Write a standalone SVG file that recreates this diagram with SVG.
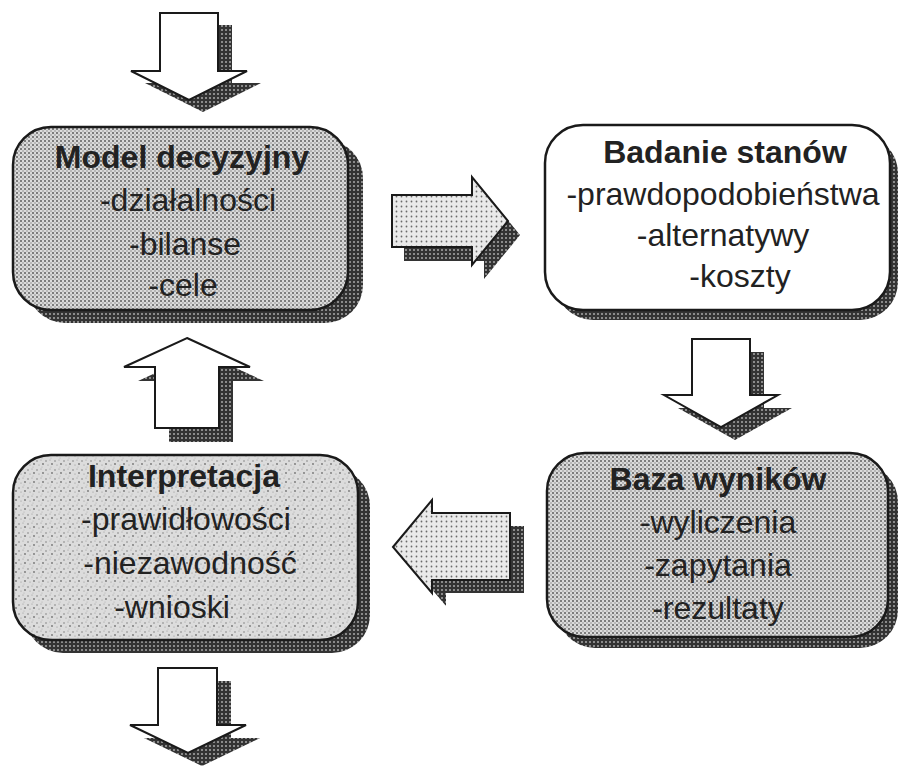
<svg xmlns="http://www.w3.org/2000/svg" width="898" height="767" viewBox="0 0 898 767">
  <defs>
    <pattern id="dots" width="4" height="4" patternUnits="userSpaceOnUse">
      <rect width="4" height="4" fill="#dadada"/>
      <circle cx="1" cy="1" r="1" fill="#5e5e5e"/>
      <circle cx="3" cy="3" r="0.8" fill="#8a8a8a"/>
    </pattern>
    <pattern id="lightdots" width="5" height="5" patternUnits="userSpaceOnUse">
      <rect width="5" height="5" fill="#eaeaea"/>
      <circle cx="1.5" cy="1.5" r="0.9" fill="#6a6a6a"/>
    </pattern>
    <pattern id="speckle" width="9" height="9" patternUnits="userSpaceOnUse">
      <rect width="9" height="9" fill="#dcdcdc"/>
      <circle cx="1" cy="2" r="0.8" fill="#808080"/>
      <circle cx="5" cy="1" r="0.6" fill="#989898"/>
      <circle cx="7" cy="5" r="0.9" fill="#747474"/>
      <circle cx="3" cy="6" r="0.6" fill="#929292"/>
      <circle cx="6" cy="8" r="0.5" fill="#a8a8a8"/>
    </pattern>
    <pattern id="shade" width="4" height="4" patternUnits="userSpaceOnUse">
      <rect width="4" height="4" fill="#333333"/>
      <circle cx="2" cy="2" r="1" fill="#a8a8a8"/>
    </pattern>
  </defs>
  <style>
    .box { stroke: #1a1a1a; stroke-width: 2.5; }
    .shadow { fill: url(#shade); stroke: none; }
    .arrow { stroke: #1a1a1a; stroke-width: 2; stroke-linejoin: miter; }
    .t { font-family: "Liberation Sans", Arial, sans-serif; font-size: 32px; fill: #222; text-anchor: middle; }
    .title { font-weight: bold; }
  </style>
  <rect width="898" height="767" fill="#ffffff"/>

  <g id="connectors">
    <g id="arrow-in">
      <polygon class="shadow" points="174,25 232,25 232,83 261,83 203,112 145,83 174,83"/>
      <polygon class="arrow" fill="#ffffff" points="160,13 218,13 218,71 247,71 189,100 131,71 160,71"/>
    </g>
    <g id="arrow-model-badanie">
      <polygon class="shadow" points="404,209 484,209 484,191 520,235 484,279 484,261 404,261"/>
      <polygon class="arrow" fill="url(#lightdots)" points="392,195 472,195 472,177 508,221 472,265 472,247 392,247"/>
    </g>
    <g id="arrow-badanie-baza">
      <polygon class="shadow" points="706,352 764,352 764,408 792,408 735,440 678,408 706,408"/>
      <polygon class="arrow" fill="#ffffff" points="692,339 750,339 750,395 778,395 721,427 664,395 692,395"/>
    </g>
    <g id="arrow-baza-interpretacja">
      <polygon class="shadow" points="407,560 446,513 446,526 524,526 524,593 446,593 446,606"/>
      <polygon class="arrow" fill="url(#lightdots)" points="393,547 432,500 432,513 510,513 510,580 432,580 432,593"/>
    </g>
    <g id="arrow-interpretacja-model">
      <polygon class="shadow" points="201,352 264,381 233,381 233,442 169,442 169,381 138,381"/>
      <polygon class="arrow" fill="#ffffff" points="187,338 250,367 219,367 219,428 155,428 155,367 124,367"/>
    </g>
    <g id="arrow-out">
      <polygon class="shadow" points="172,681 231,681 231,738 260,738 202,766 144,738 172,738"/>
      <polygon class="arrow" fill="#ffffff" points="158,668 217,668 217,725 246,725 188,753 130,725 158,725"/>
    </g>
  </g>

  <g id="model">
    <rect class="shadow" x="27" y="140" width="336" height="183" rx="38"/>
    <rect class="box" x="13" y="127" width="335" height="183" rx="38" fill="url(#dots)"/>
    <text class="t title" x="182" y="168">Model decyzyjny</text>
    <text class="t" x="188" y="211">-działalności</text>
    <text class="t" x="185" y="255">-bilanse</text>
    <text class="t" x="183" y="296">-cele</text>
  </g>

  <g id="badanie">
    <rect class="shadow" x="555" y="135" width="343" height="185" rx="38"/>
    <rect class="box" x="545" y="125" width="345" height="185" rx="38" fill="#ffffff"/>
    <text class="t title" x="725" y="163">Badanie stanów</text>
    <text class="t" x="723" y="205">-prawdopodobieństwa</text>
    <text class="t" x="723" y="246">-alternatywy</text>
    <text class="t" x="740" y="287">-koszty</text>
  </g>

  <g id="baza">
    <rect class="shadow" x="557" y="464" width="341" height="184" rx="38"/>
    <rect class="box" x="547" y="453" width="341" height="184" rx="38" fill="url(#dots)"/>
    <text class="t title" x="718" y="490">Baza wyników</text>
    <text class="t" x="718" y="533">-wyliczenia</text>
    <text class="t" x="718" y="576">-zapytania</text>
    <text class="t" x="718" y="619">-rezultaty</text>
  </g>

  <g id="interpretacja">
    <rect class="shadow" x="25" y="468" width="345" height="185" rx="38"/>
    <rect class="box" x="13" y="455" width="345" height="185" rx="38" fill="url(#speckle)"/>
    <text class="t title" x="184" y="487">Interpretacja</text>
    <text class="t" x="186" y="530">-prawidłowości</text>
    <text class="t" x="190" y="574">-niezawodność</text>
    <text class="t" x="172" y="618">-wnioski</text>
  </g>
</svg>
